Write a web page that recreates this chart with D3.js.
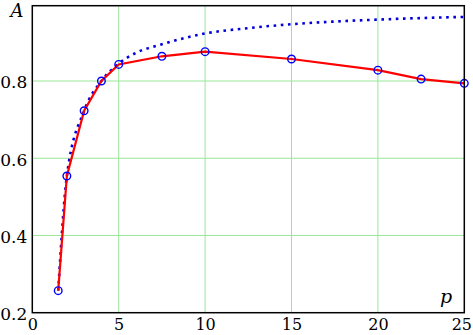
<!DOCTYPE html>
<html><head><meta charset="utf-8">
<script src="https://cdn.jsdelivr.net/npm/d3@7"></script>
<style>body{margin:0;background:#fff}svg{display:block}</style>
</head><body>
<svg id="c" width="473" height="335"></svg>
<script>
const pValues = [1.5, 2, 3, 4, 5, 7.5, 10, 15, 20, 22.5, 25];
const aValues = [0.257, 0.554, 0.723, 0.800, 0.843, 0.864, 0.876, 0.857, 0.828, 0.805, 0.794];
const limitP = [1.5, 2, 3, 4, 5, 6, 7.5, 10, 12.5, 15, 17.5, 20, 22.5, 25];
const limitA = [0.257, 0.554, 0.723, 0.800, 0.845, 0.873, 0.895, 0.923, 0.937, 0.947, 0.954, 0.959, 0.963, 0.966];
const xTicks = [0, 5, 10, 15, 20, 25];
const yTicks = [0.2, 0.4, 0.6, 0.8];

const FONT = '"DejaVu Serif", "Liberation Serif", serif';
const svg = d3.select("#c");
const L = 32.3, R = 464.3, T = 5.7, B = 312.7;
const x = d3.scaleLinear().domain([0, 25]).range([L, R]);
const y = d3.scaleLinear().domain([0.2, 0.995]).range([B, T]);

// grid
const g = svg.append("g");
g.selectAll("line.vx").data(xTicks.filter(d => d > 0 && d < 25)).join("line")
  .attr("x1", d => x(d)).attr("x2", d => x(d)).attr("y1", T).attr("y2", B)
  .attr("stroke", "#99e699").attr("stroke-width", 1);
g.selectAll("line.hy").data(yTicks.filter(d => d > 0.2)).join("line")
  .attr("y1", d => y(d)).attr("y2", d => y(d)).attr("x1", L).attr("x2", R)
  .attr("stroke", "#99e699").attr("stroke-width", 1);

const xa = svg.append("g").attr("transform", `translate(0,${B})`)
  .call(d3.axisBottom(x).tickValues(xTicks).tickSize(0).tickPadding(6).tickFormat(d3.format("d")));
xa.select(".domain").remove();
xa.attr("font-family", null).attr("font-size", null);
xa.selectAll("text").style("font-family", FONT).style("font-size", "16px").attr("y", 6).attr("dy", "0.71em").attr("fill", "#000")
  .attr("dx", d => d === 25 ? -3 : 0);
const ya = svg.append("g").attr("transform", `translate(${L},0)`)
  .call(d3.axisLeft(y).tickValues(yTicks).tickSize(0).tickPadding(5).tickFormat(d3.format(".1f")));
ya.select(".domain").remove();
ya.attr("font-family", null).attr("font-size", null);
ya.selectAll("text").style("font-family", FONT).style("font-size", "17px").attr("dy", "0.4em").attr("fill", "#000");

// dotted limit curve
const limitData = limitP.map((p, i) => [p, limitA[i]]);
svg.append("path").datum(limitData)
  .attr("d", d3.line().x(d => x(d[0])).y(d => y(d[1])).curve(d3.curveMonotoneX))
  .attr("fill", "none").attr("stroke", "#0000dd").attr("stroke-width", 2.6)
  .attr("stroke-dasharray", "2.6,4.6");

// red line
const data = pValues.map((p, i) => [p, aValues[i]]);
svg.append("path").datum(data)
  .attr("d", d3.line().x(d => x(d[0])).y(d => y(d[1])))
  .attr("fill", "none").attr("stroke", "#ff0000").attr("stroke-width", 2.2);

svg.selectAll("circle.m").data(data).join("circle")
  .attr("cx", d => x(d[0])).attr("cy", d => y(d[1])).attr("r", 3.8)
  .attr("fill", "none").attr("stroke", "#0000ff").attr("stroke-width", 1.4);

// frame
svg.append("rect").attr("x", L).attr("y", T).attr("width", R - L).attr("height", B - T)
  .attr("fill", "none").attr("stroke", "#000").attr("stroke-width", 1.5);

svg.append("text").attr("x", 17).attr("y", 17).attr("text-anchor", "middle")
  .style("font-family", FONT).style("font-size", "18px").style("font-style", "italic").text("A");
svg.append("text").attr("x", 446).attr("y", 303).attr("text-anchor", "middle")
  .style("font-family", FONT).style("font-size", "19px").style("font-style", "italic").text("p");
</script>
</body></html>
